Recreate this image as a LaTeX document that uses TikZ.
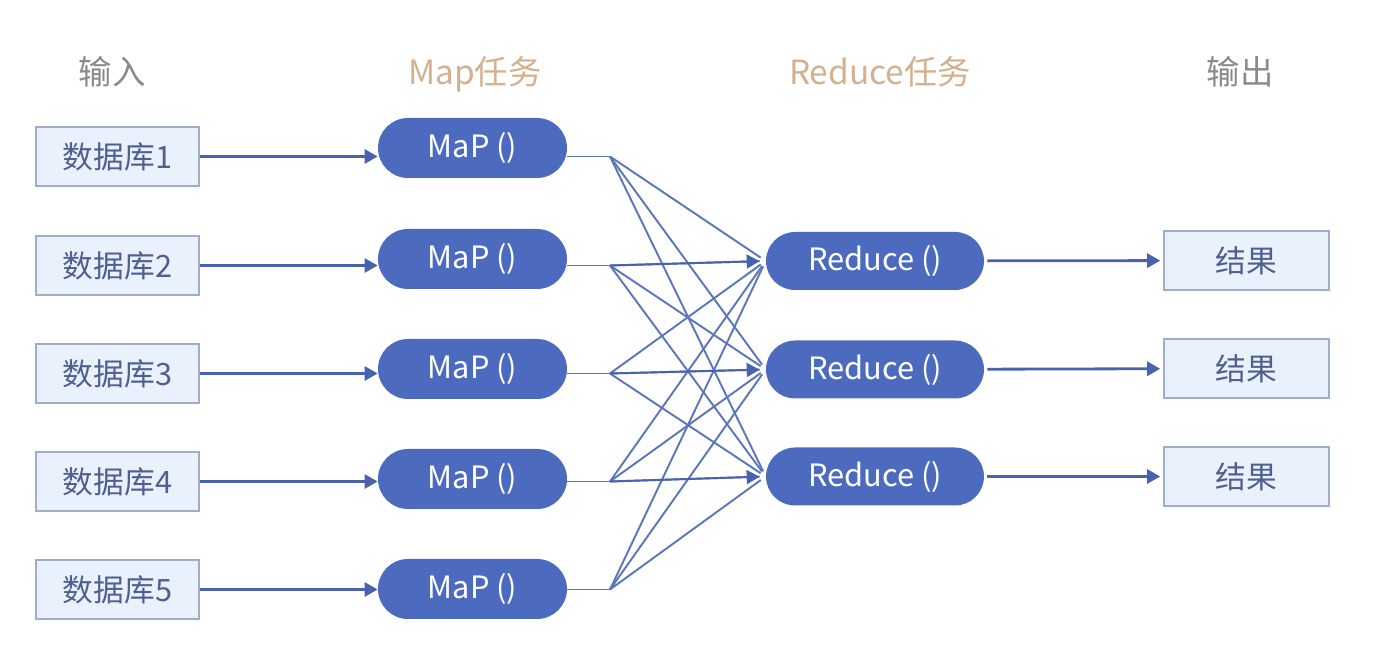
\documentclass[tikz,border=0pt]{standalone}
\usepackage{fontspec}
\setmainfont{Noto Sans CJK SC}
\usepackage{xcolor}
\usetikzlibrary{arrows.meta,calc}

\definecolor{nodeblue}{HTML}{4C6BBF}
\definecolor{lineblue}{HTML}{4862AE}
\definecolor{fanblue}{HTML}{5C76BA}
\definecolor{boxfill}{HTML}{E9F1FD}
\definecolor{boxline}{HTML}{9DADCA}
\definecolor{boxtext}{HTML}{4F6090}
\definecolor{headtan}{HTML}{D3B190}
\definecolor{headgray}{HTML}{8A8A8A}

\begin{document}
\begin{tikzpicture}[
    store/.style={rectangle, draw=boxline, line width=0.9pt, fill=boxfill, minimum width=3.26cm, minimum height=1.18cm, text=boxtext, font=\fontsize{17.5}{20}\selectfont},
    mapper/.style={rectangle, fill=nodeblue, rounded corners=0.6cm, minimum width=3.78cm, minimum height=1.2cm, text=white, font=\fontsize{17.5}{20}\selectfont},
    reducer/.style={mapper, rounded corners=0.58cm, minimum width=4.36cm, minimum height=1.16cm},
    result/.style={store, minimum width=3.3cm},
    head/.style={anchor=base, font=\fontsize{19}{22}\selectfont},
    arrow/.style={-{Triangle[length=2.6mm, width=2.8mm]}, line width=1.6pt, draw=lineblue},
    link/.style={line width=1.1pt, draw=fanblue}
]
\useasboundingbox (0,0) rectangle (27.76,13.36);

% Column headings
\node[head, text=headgray] (h_in)  at (2.24, 11.66) {输入};
\node[head, text=headtan]  (h_map) at (9.50, 11.66) {Map任务};
\node[head, text=headtan]  (h_red) at (17.60, 11.66) {Reduce任务};
\node[head, text=headgray] (h_out) at (24.80, 11.66) {输出};

% Input databases
\node[store] (db1) at (2.35, 10.23) {数据库1};
\node[store] (db2) at (2.35, 8.05) {数据库2};
\node[store] (db3) at (2.35, 5.89) {数据库3};
\node[store] (db4) at (2.35, 3.73) {数据库4};
\node[store] (db5) at (2.35, 1.57) {数据库5};

% Map tasks
\node[mapper] (map1) at (9.45, 10.40) {MaP ()};
\node[mapper] (map2) at (9.45, 8.18) {MaP ()};
\node[mapper] (map3) at (9.45, 5.98) {MaP ()};
\node[mapper] (map4) at (9.45, 3.78) {MaP ()};
\node[mapper] (map5) at (9.45, 1.58) {MaP ()};

% Reduce tasks
\node[reducer] (red1) at (17.50, 8.14) {Reduce ()};
\node[reducer] (red2) at (17.50, 5.97) {Reduce ()};
\node[reducer] (red3) at (17.50, 3.83) {Reduce ()};

% Outputs
\node[result] (res1) at (24.93, 8.15) {结果};
\node[result] (res2) at (24.93, 5.99) {结果};
\node[result] (res3) at (24.93, 3.83) {结果};

% Shuffle points
\coordinate (fan1) at (12.2, 10.23);
\coordinate (fan2) at (12.2, 8.05);
\coordinate (fan3) at (12.2, 5.89);
\coordinate (fan4) at (12.2, 3.73);
\coordinate (fan5) at (12.2, 1.57);

% Connections
\draw[arrow] (db1.east) -- (db1.east -| map1.west);
\draw[arrow] (db2.east) -- (db2.east -| map2.west);
\draw[arrow] (db3.east) -- (db3.east -| map3.west);
\draw[arrow] (db4.east) -- (db4.east -| map4.west);
\draw[arrow] (db5.east) -- (db5.east -| map5.west);

\draw[link] (map1.east |- fan1) -- (fan1);
\draw[link] (map2.east |- fan2) -- (fan2);
\draw[link] (map3.east |- fan3) -- (fan3);
\draw[link] (map4.east |- fan4) -- (fan4);
\draw[link] (map5.east |- fan5) -- (fan5);

\foreach \m in {1,...,5}
  \foreach \r in {1,2,3}
    \draw[link, shorten >=0.12cm] (fan\m) -- (red\r.west);

\draw[arrow, line width=1.1pt, shorten >=0.12cm] (fan2) -- (red1.west);
\draw[arrow, line width=1.1pt, shorten >=0.12cm] (fan3) -- (red2.west);
\draw[arrow, line width=1.1pt, shorten >=0.12cm] (fan4) -- (red3.west);

\draw[arrow, shorten <=0.06cm, shorten >=0.06cm] (red1) -- (res1);
\draw[arrow, shorten <=0.06cm, shorten >=0.06cm] (red2) -- (res2);
\draw[arrow, shorten <=0.06cm, shorten >=0.06cm] (red3) -- (res3);

\end{tikzpicture}
\end{document}
